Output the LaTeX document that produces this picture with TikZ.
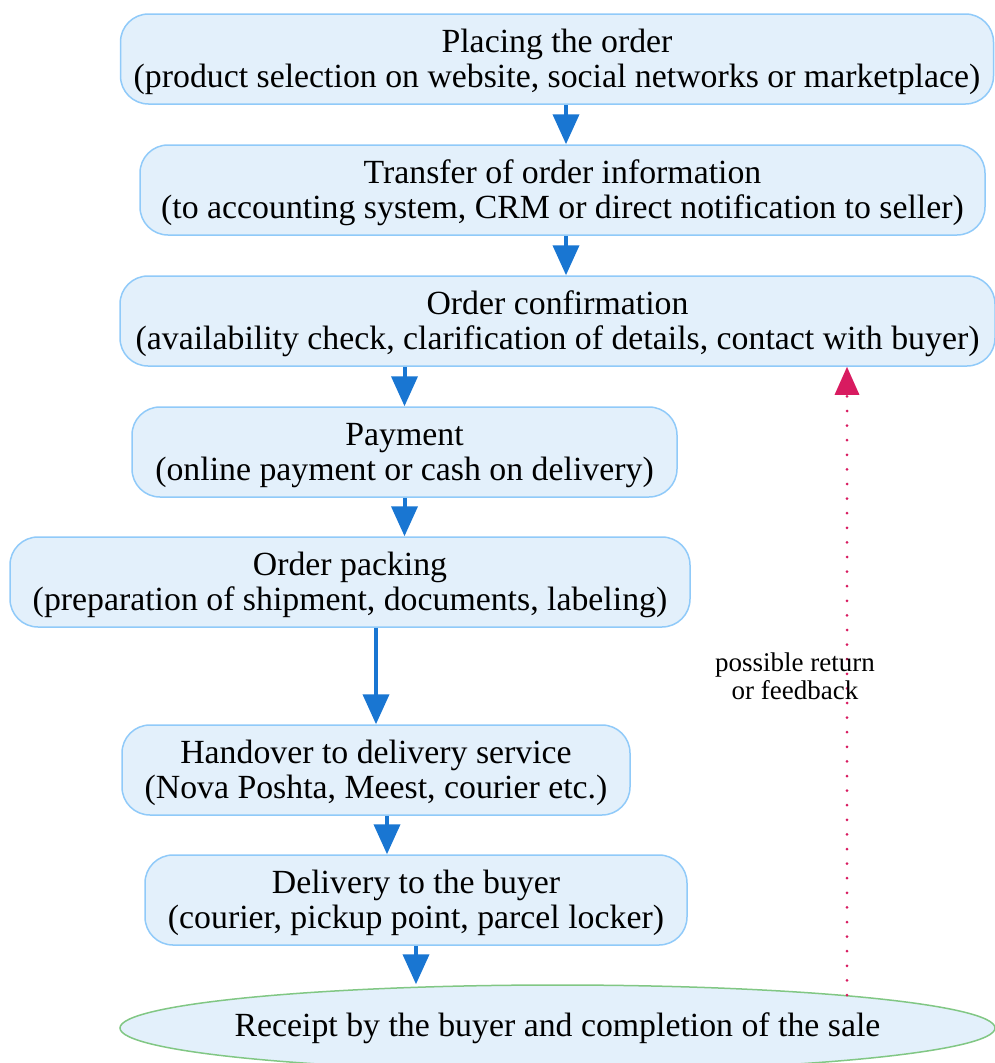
\documentclass[tikz,border=0pt]{standalone}
\usepackage{fontspec}
\setmainfont{Liberation Serif}
\usetikzlibrary{shapes.geometric,arrows.meta,positioning,calc}
\definecolor{boxfill}{RGB}{227,240,251}
\definecolor{boxline}{RGB}{144,202,249}
\definecolor{flowblue}{RGB}{25,118,210}
\definecolor{backred}{RGB}{216,27,96}
\definecolor{endline}{RGB}{129,199,132}
\newcommand{\toprule}{\rule{0pt}{30pt}}

\begin{document}
\begin{tikzpicture}[
    x=1pt, y=-1pt,
    stage/.style={rectangle, draw=boxline, line width=1.5pt, fill=boxfill, rounded corners=28pt, minimum height=90pt, align=center, inner sep=0pt, font=\fontsize{33.8}{35}\selectfont},
    finish/.style={ellipse, draw=endline, line width=1.5pt, fill=boxfill, minimum width=875pt, minimum height=86pt, inner xsep=-20pt, inner ysep=0pt, font=\fontsize{33.8}{35}\selectfont},
    flow/.style={-{Triangle[length=30pt,width=26pt]}, line width=4pt, draw=flowblue},
    back/.style={-{Triangle[length=28pt,width=24pt]}, line width=3pt, draw=backred, line cap=round, dash pattern=on 0pt off 14.6pt},
    note/.style={align=center, font=\fontsize{27}{28}\selectfont}
]
    \useasboundingbox (0,0) rectangle (995,1063);

    % Stages
    \node[stage, minimum width=873pt] (place) at (557,59) {\toprule Placing the order\\(product selection on website, social networks or marketplace)};
    \node[stage, minimum width=845pt] (transfer) at (562.5,190) {\toprule Transfer of order information\\(to accounting system, CRM or direct notification to seller)};
    \node[stage, minimum width=875pt] (confirm) at (557.5,321) {\toprule Order confirmation\\(availability check, clarification of details, contact with buyer)};
    \node[stage, minimum width=545pt] (payment) at (404.5,452) {\toprule Payment\\(online payment or cash on delivery)};
    \node[stage, minimum width=680pt] (packing) at (350,582) {\toprule Order packing\\(preparation of shipment, documents, labeling)};
    \node[stage, minimum width=508pt] (handover) at (376,770) {\toprule Handover to delivery service\\(Nova Poshta, Meest, courier etc.)};
    \node[stage, minimum width=542pt] (delivery) at (416,900) {\toprule Delivery to the buyer\\(courier, pickup point, parcel locker)};

    % End
    \node[finish] (receipt) at (557.5,1028) {Receipt by the buyer and completion of the sale};

    % Edges
    \draw[flow] ([xshift=9pt]place.south) -- ([xshift=9pt]place.south |- transfer.north);
    \draw[flow] ([xshift=3.5pt]transfer.south) -- ([xshift=3.5pt]transfer.south |- confirm.north);
    \draw[flow] (payment.north |- confirm.south) -- (payment.north);
    \draw[flow] (payment.south) -- (payment.south |- packing.north);
    \draw[flow] (handover.north |- packing.south) -- (handover.north);
    \draw[flow] ([xshift=11pt]handover.south) -- ([xshift=11pt]handover.south |- delivery.north);
    \draw[flow] (delivery.south) -- (delivery.south |- receipt.north);

    % Return
    \coordinate (retfoot) at (847,995);
    \draw[back] (retfoot) -- (retfoot |- confirm.south);
    \node[note] (retnote) at (795,676) {possible return\\or feedback};
\end{tikzpicture}
\end{document}
